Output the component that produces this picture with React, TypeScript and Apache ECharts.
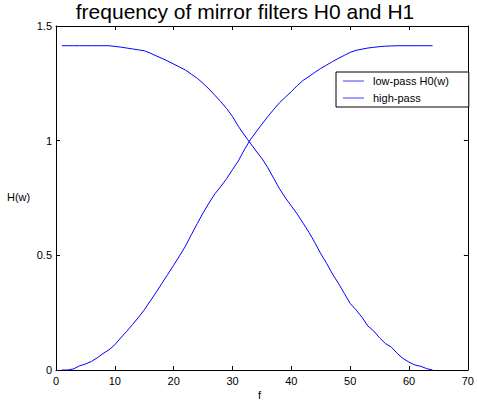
import React, { useEffect, useRef } from "react";
import * as echarts from "echarts";

const freq: number[] = Array.from({ length: 64 }, (_, i) => i + 1);

const lowPass: number[] = [
  1.414, 1.414, 1.414, 1.414, 1.414, 1.414, 1.414, 1.414, 1.414, 1.411,
  1.408, 1.404, 1.400, 1.396, 1.392, 1.382, 1.370, 1.359, 1.347, 1.334,
  1.321, 1.308, 1.290, 1.272, 1.250, 1.225, 1.198, 1.170, 1.140, 1.105,
  1.062, 1.025, 0.990, 0.955, 0.922, 0.882, 0.836, 0.790, 0.750, 0.715,
  0.680, 0.640, 0.600, 0.555, 0.507, 0.465, 0.418, 0.378, 0.334, 0.290,
  0.262, 0.230, 0.192, 0.170, 0.140, 0.115, 0.100, 0.072, 0.050, 0.034,
  0.022, 0.016, 0.006, 0.0,
];

const highPass: number[] = [
  0.0, 0.0, 0.005, 0.018, 0.026, 0.037, 0.053, 0.072, 0.088, 0.110,
  0.140, 0.168, 0.198, 0.229, 0.262, 0.300, 0.338, 0.378, 0.417, 0.457,
  0.498, 0.540, 0.590, 0.638, 0.685, 0.728, 0.768, 0.800, 0.834, 0.874,
  0.912, 0.960, 1.003, 1.038, 1.072, 1.105, 1.136, 1.166, 1.190, 1.214,
  1.240, 1.263, 1.280, 1.298, 1.315, 1.330, 1.345, 1.359, 1.372, 1.385,
  1.394, 1.399, 1.404, 1.407, 1.410, 1.412, 1.413, 1.414, 1.414, 1.414,
  1.414, 1.414, 1.414, 1.414,
];

const seriesNames: string[] = ["low-pass H0(w)", "high-pass"];
const titleText = "frequency of mirror filters H0 and H1";
const xLabel = "f";
const yLabel = "H(w)";

const FONT = "'Liberation Sans', Arial, Helvetica, sans-serif";
const LINE_ICON = "path://M0,5.5L21,5.5L21,6.5L0,6.5Z M0,0L0.01,0L0.01,12L0,12Z";

export default function App() {
  const ref = useRef<HTMLDivElement>(null);

  useEffect(() => {
    if (!ref.current) return;
    const chart = echarts.init(ref.current, undefined, { renderer: "svg" });
    const axisCommon = {
      axisLine: { show: true, onZero: false, lineStyle: { color: "#000", width: 1 } },
      axisTick: { show: true, inside: true, length: 4, lineStyle: { color: "#000" } },
      splitLine: { show: false },
    };
    chart.setOption({
      animation: false,
      backgroundColor: "#fff",
      textStyle: { fontFamily: FONT },
      title: {
        text: titleText,
        left: 240,
        textAlign: "center",
        top: -4,
        textStyle: { fontFamily: FONT, fontSize: 21, fontWeight: "normal", color: "#000" },
      },
      grid: { left: 56, right: 7, top: 26, bottom: 36, containLabel: false },
      legend: {
        orient: "vertical",
        left: 336,
        top: 72,
        data: seriesNames.map((n) => ({ name: n, icon: LINE_ICON })),
        backgroundColor: "#fff",
        borderColor: "#000",
        borderWidth: 1,
        padding: [3, 20, 3, 7],
        itemGap: 5,
        itemWidth: 21,
        itemHeight: 12,
        itemStyle: { color: "#4040ff" },
        textStyle: { fontFamily: FONT, fontSize: 11, color: "#000", padding: [0, 0, 0, 4] },
      },
      xAxis: [
        {
          ...axisCommon,
          type: "value",
          min: 0,
          max: 70,
          interval: 10,
          position: "bottom",
          axisLabel: { color: "#000", fontSize: 11, fontFamily: FONT, margin: 5 },
        },
        {
          ...axisCommon,
          type: "value",
          min: 0,
          max: 70,
          interval: 10,
          position: "top",
          axisLabel: { show: false },
        },
      ],
      yAxis: [
        {
          ...axisCommon,
          type: "value",
          min: 0,
          max: 1.5,
          interval: 0.5,
          position: "left",
          axisLabel: { color: "#000", fontSize: 11, fontFamily: FONT, margin: 4 },
        },
        {
          ...axisCommon,
          type: "value",
          min: 0,
          max: 1.5,
          interval: 0.5,
          position: "right",
          axisLabel: { show: false },
        },
      ],
      graphic: [
        {
          type: "text",
          left: 7,
          top: 191,
          style: { text: yLabel, fontFamily: FONT, fontSize: 11, fill: "#000" },
        },
        {
          type: "text",
          left: 258,
          top: 389,
          style: { text: xLabel, fontFamily: FONT, fontSize: 11, fill: "#000" },
        },
      ],
      series: [
        {
          name: seriesNames[0],
          type: "line",
          xAxisIndex: 0,
          yAxisIndex: 0,
          data: freq.map((f, i) => [f, lowPass[i]]),
          symbol: "none",
          lineStyle: { color: "#0000ff", width: 1 },
          itemStyle: { color: "#0000ff" },
        },
        {
          name: seriesNames[1],
          type: "line",
          xAxisIndex: 0,
          yAxisIndex: 0,
          data: freq.map((f, i) => [f, highPass[i]]),
          symbol: "none",
          lineStyle: { color: "#0000ff", width: 1 },
          itemStyle: { color: "#0000ff" },
        },
      ],
    });
    return () => chart.dispose();
  }, []);

  return (
    <div
      ref={ref}
      style={{ position: "fixed", left: 0, top: 0, width: 477, height: 406, background: "#fff" }}
    />
  );
}
